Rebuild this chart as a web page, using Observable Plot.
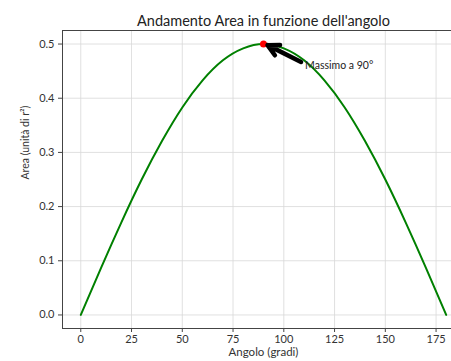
<!DOCTYPE html>
<html>
<head>
<meta charset="utf-8">
<script src="https://cdn.jsdelivr.net/npm/d3@7"></script>
<script src="https://cdn.jsdelivr.net/npm/@observablehq/plot@0.6"></script>
<style>
html, body { margin: 0; padding: 0; background: #fff; overflow: hidden; }
#chart { width: 451px; height: 361px; overflow: hidden; }
#chart svg { max-width: none !important; font-family: Lato, "Open Sans", sans-serif; }
</style>
</head>
<body>
<div id="chart"></div>
<script>
// Data
const angles = [0, 10, 20, 30, 40, 50, 60, 70, 80, 90, 100, 110, 120, 130, 140, 150, 160, 170, 180];
const areas  = [0, 0.087, 0.171, 0.25, 0.321, 0.383, 0.433, 0.47, 0.492, 0.5, 0.492, 0.47, 0.433, 0.383, 0.321, 0.25, 0.171, 0.087, 0];
const maxPoint = {angle: 90, area: 0.5};
const arrowFrom = {angle: 108.5, area: 0.467};
const arrowTo = {angle: 92, area: 0.498};
const noteText = "Massimo a 90°";
const notePos = {angle: 110.5, area: 0.46};
const xTicks = [0, 25, 50, 75, 100, 125, 150, 175];
const yTicks = [0, 0.1, 0.2, 0.3, 0.4, 0.5];
const titleText = "Andamento Area in funzione dell'angolo";
const xLabel = "Angolo (gradi)";
const yLabel = "Area (unità di r²)";

const data = angles.map((a, i) => ({angle: a, area: areas[i]}));

const chart = Plot.plot({
  width: 466,
  height: 361,
  marginLeft: 62,
  marginRight: 2,
  marginTop: 30,
  marginBottom: 33,
  style: {fontSize: "11px", color: "#333", background: "#fff", maxWidth: "none"},
  x: {domain: [-9, 189], label: null},
  y: {domain: [-0.025, 0.525], label: null},
  marks: [
    Plot.gridX(xTicks, {stroke: "#d8d8d8", strokeOpacity: 1, strokeWidth: 0.8}),
    Plot.gridY(yTicks, {stroke: "#d8d8d8", strokeOpacity: 1, strokeWidth: 0.8}),
    Plot.axisX({ticks: xTicks, tickSize: 4, tickPadding: 3, stroke: "#444", fill: "#333", label: null, fontSize: 11}),
    Plot.axisY({ticks: yTicks, tickSize: 4, tickPadding: 4, tickFormat: d3.format(".1f"), stroke: "#444", fill: "#333", label: null, fontSize: 11}),
    Plot.ruleX([-9], {stroke: "#444", strokeWidth: 1}),
    Plot.ruleY([-0.025, 0.525], {stroke: "#444", strokeWidth: 1}),
    Plot.line(data, {x: "angle", y: "area", stroke: "#008000", strokeWidth: 2, curve: "natural"}),
    Plot.dot([maxPoint], {x: "angle", y: "area", r: 3.5, fill: "red", stroke: "none"}),
    Plot.arrow([{x1: arrowFrom.angle, y1: arrowFrom.area, x2: arrowTo.angle, y2: arrowTo.area}],
      {x1: "x1", y1: "y1", x2: "x2", y2: "y2", stroke: "black", strokeWidth: 4.5, headLength: 9, headAngle: 55}),
    Plot.text([notePos], {x: "angle", y: "area", text: () => noteText, textAnchor: "start", fontSize: 10.5, fill: "#222"}),
    Plot.text([titleText], {frameAnchor: "top", dy: -15, fontSize: 14.5, fill: "#222"}),
    Plot.text([xLabel], {frameAnchor: "bottom", dy: 27, fontSize: 11.5, fill: "#333"}),
    Plot.text([yLabel], {frameAnchor: "left", dx: -37, rotate: -90, fontSize: 10.5, fill: "#333"})
  ]
});
document.getElementById("chart").append(chart);
</script>
</body>
</html>
